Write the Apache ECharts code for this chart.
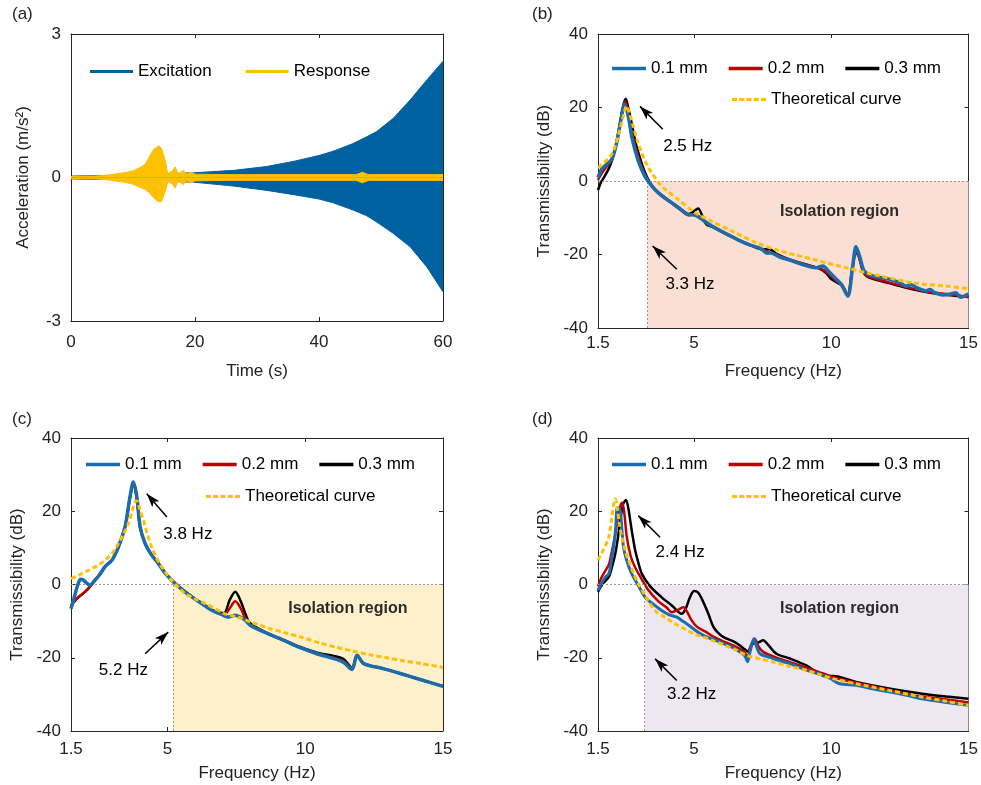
<!DOCTYPE html>
<html><head><meta charset="utf-8">
<script src="https://cdn.jsdelivr.net/npm/echarts@6/dist/echarts.min.js"></script>
<style>html,body{margin:0;padding:0;background:#fff}#c{width:981px;height:785px}</style>
</head><body><div id="c"></div>
<script>
// ---------- Panel (a): envelopes of time signals ----------
const excT  = [0, 10, 20, 26.3, 31.6, 36, 40, 42.3, 45.5, 47.7, 49.3, 52, 54.7, 57.4, 60];
const excUp = [0.03, 0.05, 0.1, 0.15, 0.23, 0.34, 0.46, 0.55, 0.71, 0.85, 0.96, 1.24, 1.62, 2.04, 2.43];
const excLo = [-0.03, -0.05, -0.1, -0.18, -0.27, -0.36, -0.45, -0.53, -0.68, -0.8, -0.93, -1.17, -1.45, -1.87, -2.39];
const resT  = [0, 4, 6, 8, 9, 10, 11, 12, 12.7, 13.3, 13.8, 14.2, 14.6, 15.0, 15.3, 15.6, 15.9, 16.3, 16.8, 17.3, 17.7, 18.1, 18.6, 19.0, 19.5, 20, 25, 30, 40, 46, 47, 48, 50, 60];
const resUp = [0.02, 0.03, 0.05, 0.09, 0.11, 0.14, 0.2, 0.28, 0.45, 0.58, 0.63, 0.66, 0.6, 0.45, 0.3, 0.08, 0.11, 0.13, 0.22, 0.07, 0.11, 0.15, 0.07, 0.09, 0.11, 0.07, 0.06, 0.06, 0.06, 0.06, 0.11, 0.06, 0.06, 0.06];
const resLo = [-0.02, -0.03, -0.05, -0.09, -0.11, -0.14, -0.2, -0.25, -0.33, -0.42, -0.48, -0.51, -0.5, -0.36, -0.25, -0.08, -0.11, -0.13, -0.22, -0.07, -0.11, -0.15, -0.07, -0.09, -0.11, -0.07, -0.06, -0.06, -0.06, -0.06, -0.11, -0.06, -0.06, -0.06];

// ---------- Frequency axis ----------
const freqTicks = [1.5, 5, 10, 15];

// ---------- Panel (b) [f (Hz), dB] ----------
const b01 = [[1.5,0.9],[1.63,3.2],[1.8,4.5],[2.0,5.9],[2.18,10.4],[2.36,17.7],[2.46,20.9],[2.6,17.7],[2.75,11.3],[2.97,5.4],[3.2,1.4],[3.4,-0.8],[3.57,-2.3],[3.85,-4.2],[4.18,-5.9],[4.5,-7.6],[4.78,-9.1],[5.03,-9.3],[5.3,-10.5],[5.63,-12.2],[5.9,-13.3],[6.24,-14.6],[6.6,-16],[7.03,-17.4],[7.3,-18],[7.5,-18.7],[7.63,-19.6],[7.8,-19.6],[8.12,-20.7],[8.48,-21.5],[8.85,-22.5],[9.45,-23.6],[9.69,-23.1],[9.94,-24.9],[10.18,-26.7],[10.36,-28.1],[10.6,-31.3],[10.78,-23.1],[10.9,-17.9],[11.03,-20.4],[11.2,-24.5],[11.5,-25.8],[12.1,-26.7],[12.5,-27.7],[12.73,-28.6],[12.9,-28.2],[13.1,-29],[13.45,-29.9],[13.6,-29.5],[13.75,-30.3],[14.06,-31.0],[14.3,-30.8],[14.54,-30.4],[14.7,-31.6],[14.85,-31.3],[15,-30.8]];
const b02 = [[1.5,0.3],[1.65,2.2],[1.8,3.8],[2.0,5.6],[2.15,9.8],[2.3,15.5],[2.42,20.3],[2.49,21.6],[2.58,19.5],[2.72,13.5],[2.85,9.5],[2.97,6.5],[3.2,1.8],[3.4,-0.6],[3.6,-2.4],[3.9,-4.4],[4.2,-6.1],[4.5,-7.8],[4.8,-9.3],[5.05,-9.1],[5.25,-10.2],[5.5,-11.8],[5.8,-12.9],[6.2,-14.6],[6.6,-16],[7.0,-17.4],[7.4,-18.3],[7.7,-19.3],[8.1,-20.3],[8.5,-21.4],[9.1,-22.8],[9.55,-23.7],[9.8,-24.6],[10.0,-26],[10.2,-27.3],[10.4,-28.3],[10.6,-31],[10.75,-25],[10.9,-19.3],[11.0,-20.5],[11.15,-24.3],[11.3,-25.8],[11.6,-26.6],[12.1,-27.6],[12.7,-28.8],[13.3,-29.8],[14.0,-30.6],[14.5,-31],[15,-31.6]];
const b03 = [[1.5,-2.5],[1.6,-0.5],[1.75,1.4],[1.9,3.5],[2.0,5.4],[2.15,9.5],[2.3,15.5],[2.42,20.5],[2.51,22.4],[2.6,20],[2.72,15.9],[2.85,11],[2.97,7.7],[3.2,2.5],[3.4,-0.5],[3.6,-2.5],[3.9,-4.3],[4.2,-6.0],[4.5,-7.6],[4.8,-9.0],[4.95,-8.5],[5.15,-7.5],[5.3,-9.5],[5.45,-11.8],[5.7,-12.6],[6.0,-13.7],[6.3,-14.8],[6.7,-16.3],[7.1,-17.6],[7.5,-18.6],[7.75,-18.6],[8.0,-19.8],[8.5,-21.4],[9.1,-22.8],[9.55,-23.8],[9.8,-25],[10.0,-26.7],[10.2,-27.6],[10.4,-28.5],[10.6,-31],[10.75,-24.5],[10.9,-19.5],[11.0,-20.5],[11.15,-24.5],[11.3,-26],[11.6,-26.8],[12.1,-27.8],[12.7,-29],[13.3,-30],[14.0,-30.8],[14.5,-31.2],[15,-31.6]];
const bTheory = [[1.5,3.6],[1.75,5.2],[2.0,7.3],[2.15,10],[2.3,14.1],[2.45,18.5],[2.54,20.4],[2.62,19],[2.78,15],[2.93,11],[3.09,7.7],[3.27,4.6],[3.45,2.3],[3.82,-1.4],[4.42,-5],[5.03,-8.6],[5.63,-10.9],[6.48,-14],[7.27,-16.8],[8.12,-19],[9.33,-21.3],[10.54,-23.6],[11.75,-25.8],[12.97,-27.7],[14.18,-28.6],[15,-29.3]];

// ---------- Panel (c) ----------
const c01 = [[1.5,-6.6],[1.6,-4],[1.75,0],[1.85,1.4],[1.95,1.2],[2.05,0.5],[2.19,-0.2],[2.35,1.0],[2.55,2.8],[2.75,5.0],[2.98,6.6],[3.1,8.2],[3.22,10.2],[3.46,15.7],[3.64,23.9],[3.76,28],[3.89,23.9],[4.01,15.7],[4.19,11.2],[4.4,8.3],[4.67,5.7],[4.9,3.2],[5.16,1.1],[5.5,-1.2],[5.88,-3.4],[6.2,-5.0],[6.61,-7.0],[7.0,-8.3],[7.21,-8.9],[7.45,-8.4],[7.8,-9.6],[8.0,-11.1],[8.6,-13.3],[9.21,-15.2],[9.8,-17.2],[10.42,-18.9],[11.03,-20.2],[11.4,-21.3],[11.7,-23.2],[11.88,-19.3],[12.12,-21.6],[12.8,-22.9],[13.45,-24.3],[14.2,-26],[15,-27.8]];
const c02 = [[1.5,-6.2],[1.6,-4.6],[1.8,-3.2],[2.0,-2.0],[2.19,-0.6],[2.35,1.0],[2.55,2.8],[2.75,5.0],[2.98,6.6],[3.1,8.2],[3.22,10.2],[3.46,15.7],[3.64,23.6],[3.76,27.6],[3.89,23.4],[4.01,15.5],[4.19,11.2],[4.4,8.4],[4.67,5.8],[4.9,3.4],[5.16,1.2],[5.5,-1.1],[5.88,-3.3],[6.2,-4.9],[6.61,-6.9],[7.05,-8.4],[7.25,-6.6],[7.46,-4.6],[7.65,-6.4],[7.85,-9.6],[8.0,-11.0],[8.6,-13.3],[9.21,-15.2],[9.8,-17.2],[10.42,-18.8],[11.03,-20.0],[11.4,-21.0],[11.7,-23.0],[11.88,-19.3],[12.12,-21.6],[12.8,-22.9],[13.45,-24.3],[14.2,-26],[15,-27.8]];
const c03 = [[1.5,-6.0],[1.6,-4.8],[1.8,-3.3],[2.0,-2.1],[2.19,-0.6],[2.35,1.0],[2.55,2.8],[2.75,5.0],[2.98,6.6],[3.1,8.2],[3.22,10.2],[3.46,15.7],[3.64,23.8],[3.76,27.9],[3.89,23.6],[4.01,15.6],[4.19,11.2],[4.4,8.4],[4.67,5.8],[4.9,3.4],[5.16,1.2],[5.5,-1.1],[5.88,-3.3],[6.2,-4.9],[6.61,-6.9],[7.05,-7.8],[7.25,-4.4],[7.46,-2.0],[7.65,-4.4],[7.85,-8.4],[8.0,-10.6],[8.6,-13.2],[9.21,-15.1],[9.8,-17.0],[10.42,-18.6],[11.03,-19.5],[11.4,-20.4],[11.7,-22.8],[11.88,-19.3],[12.12,-21.6],[12.8,-22.9],[13.45,-24.3],[14.2,-26],[15,-27.8]];
const cTheory = [[1.5,1.6],[1.8,2.6],[2.13,3.9],[2.45,5.1],[2.74,6.6],[3.0,8.6],[3.22,11.2],[3.42,14],[3.58,16.6],[3.72,20],[3.82,22.5],[3.9,22.8],[3.98,21],[4.13,17.5],[4.28,13.5],[4.43,10.2],[4.6,7.3],[4.79,4.8],[5.0,2.6],[5.16,1.1],[5.4,-0.7],[5.64,-2.5],[6.0,-3.9],[6.37,-5.2],[6.7,-6.5],[7.09,-8],[7.6,-9.0],[8.0,-10.2],[8.7,-12],[9.33,-13.3],[9.82,-14.3],[10.54,-16],[11.15,-17.2],[11.63,-18],[12.35,-19.2],[12.96,-20],[13.45,-20.7],[14.2,-21.6],[15,-22.6]];

// ---------- Panel (d) ----------
const d01 = [[1.5,-1.6],[1.6,0],[1.77,2],[1.9,3],[2.01,7.5],[2.1,12],[2.15,16],[2.19,20.7],[2.25,21],[2.31,20.2],[2.37,15],[2.43,10.2],[2.55,6.5],[2.73,2.9],[2.95,0],[3.22,-3.5],[3.5,-5.3],[3.82,-7.1],[4.1,-8.3],[4.37,-8.9],[4.55,-9.8],[4.73,-10.7],[5.03,-12.4],[5.34,-13.9],[5.7,-15],[6.06,-16.1],[6.4,-17.2],[6.67,-18.4],[6.85,-19.5],[6.95,-21.1],[7.05,-18],[7.18,-14.8],[7.28,-17],[7.4,-18.9],[7.88,-20.2],[8.49,-21.6],[9.09,-23.4],[9.7,-24.8],[10.0,-25.8],[10.3,-27.1],[10.9,-27.5],[11.5,-28.5],[12.1,-29.3],[12.7,-30.2],[13.3,-31.2],[14.2,-32.2],[15,-33]];
const d02 = [[1.5,-0.5],[1.6,1.5],[1.77,3.8],[1.9,5.5],[2.01,9.3],[2.1,12.5],[2.19,16.6],[2.28,20.5],[2.37,22.3],[2.45,20],[2.55,12.9],[2.7,7.5],[2.85,4.7],[3.05,2],[3.34,-1.6],[3.7,-4.6],[4.0,-6.3],[4.19,-7.6],[4.4,-7],[4.61,-6.2],[4.75,-7.5],[4.91,-9.8],[5.1,-11.5],[5.4,-12.8],[5.7,-14.2],[6.06,-15.5],[6.5,-16.9],[6.8,-18.2],[6.95,-19.8],[7.05,-17],[7.21,-14.8],[7.35,-17],[7.52,-18.4],[8.0,-20],[8.49,-21.2],[9.21,-23],[9.7,-24.3],[10.3,-25.8],[10.9,-26.8],[11.5,-27.8],[12.1,-28.8],[12.7,-29.8],[13.3,-30.6],[14.2,-31.4],[15,-32.2]];
const d03 = [[1.5,-2],[1.65,0],[1.89,2],[2.0,4.5],[2.13,8.4],[2.22,12.5],[2.31,17.5],[2.42,22],[2.52,23.1],[2.6,21],[2.73,14.7],[2.85,9.5],[2.95,6.5],[3.1,2.9],[3.4,-0.5],[3.82,-3.5],[4.2,-5.8],[4.55,-8],[4.7,-6.5],[4.85,-3.5],[5.0,-1.8],[5.15,-2.2],[5.3,-4.2],[5.52,-8],[5.7,-11.5],[5.85,-13],[6.06,-14.3],[6.5,-15.8],[6.85,-17.7],[6.95,-18.3],[7.15,-16.1],[7.35,-15.8],[7.52,-15.2],[7.7,-16.5],[8.0,-18.9],[8.49,-20.2],[9.09,-22.1],[9.45,-23.9],[9.75,-25],[10.06,-25],[10.9,-26.6],[12.1,-28.4],[13.3,-29.8],[14.2,-30.6],[15,-31.2]];
const dTheory = [[1.5,6.6],[1.7,9.5],[1.89,12.9],[2.0,18],[2.07,22],[2.13,23.4],[2.2,21],[2.28,16.5],[2.37,12.9],[2.5,9],[2.61,6.6],[2.8,3],[2.97,0.2],[3.2,-2.8],[3.58,-7.1],[3.95,-9],[4.31,-10.7],[4.7,-12.3],[5.03,-13.6],[5.34,-14.3],[5.7,-15.4],[6.06,-16.4],[6.5,-17.8],[6.91,-19.3],[7.4,-20.3],[7.88,-21.2],[8.5,-22.4],[9.09,-23.4],[9.6,-24.6],[10.06,-25.7],[10.9,-27.1],[12.1,-28.9],[13.3,-30.7],[14.2,-31.9],[15,-33]];

// Resonance / isolation-start frequencies
const peakHz = [2.5, 3.8, 2.4];
const isoHz  = [3.3, 5.2, 3.2];

// ---------- Styles ----------
const FONT = "'Liberation Sans', Arial, Helvetica, sans-serif";
const TXT = '#222';
const AX = '#262626';
const BLUE_A = '#0061A0', YEL = '#FFC000';
const BLUE = '#1C6BAA', RED = '#C00000', BLACK = '#000000';
const FILLS = ['#F9DFD4', '#FFF0CC', '#ECE7F0'];
const DASH_ICON = 'path://M0,0h5v3h-5z M7.25,0h5v3h-5z M14.5,0h5v3h-5z M21.75,0h5v3h-5z M29,0h5v3h-5z';

const chart = echarts.init(document.getElementById('c'), null, {renderer: 'canvas'});

const grids = [
  {left: 71, top: 34, width: 372, height: 287},
  {left: 598, top: 34, width: 371, height: 294},
  {left: 71, top: 438, width: 372, height: 293},
  {left: 598, top: 438, width: 371, height: 293}
];

const xAxis = [], yAxis = [], series = [];
function axisCommon(extra) {
  return Object.assign({
    type: 'value', splitLine: {show: false},
    axisLine: {show: true, onZero: false, lineStyle: {color: AX, width: 1}},
    axisTick: {show: true, inside: true, length: 4, lineStyle: {color: AX}},
    axisLabel: {color: TXT, fontSize: 17, fontFamily: FONT},
    nameTextStyle: {color: TXT, fontSize: 17, fontFamily: FONT}
  }, extra);
}
function addAxes(gi, xcfg, ycfg) {
  xAxis.push(axisCommon(Object.assign({gridIndex: gi, position: 'bottom'}, xcfg.bottom)));
  xAxis.push(axisCommon(Object.assign({gridIndex: gi, position: 'top', axisLabel: {show: false}}, xcfg.top)));
  yAxis.push(axisCommon(Object.assign({gridIndex: gi, position: 'left'}, ycfg.left)));
  yAxis.push(axisCommon(Object.assign({gridIndex: gi, position: 'right', axisLabel: {show: false}}, ycfg.right)));
}

// Panel a axes
addAxes(0,
  {bottom: {min: 0, max: 60, interval: 20, name: 'Time (s)', nameLocation: 'middle', nameGap: 42,
            axisLabel: {color: TXT, fontSize: 17, fontFamily: FONT, margin: 13}},
   top: {min: 0, max: 60, interval: 20}},
  {left: {min: -3, max: 3, interval: 3, name: 'Acceleration (m/s²)', nameLocation: 'middle', nameGap: 39,
          axisLabel: {color: TXT, fontSize: 17, fontFamily: FONT, margin: 10}},
   right: {min: -3, max: 3, interval: 3}});

const xNameGaps = [35, 34, 34];
const xMargins = [7, 10, 10];
for (let k = 0; k < 3; k++) {
  const gi = k + 1;
  addAxes(gi,
    {bottom: {min: 1.5, max: 15, name: 'Frequency (Hz)', nameLocation: 'middle', nameGap: xNameGaps[k],
              axisLabel: {color: TXT, fontSize: 17, fontFamily: FONT, margin: xMargins[k], customValues: freqTicks},
              axisTick: {show: true, inside: true, length: 4, lineStyle: {color: AX}, customValues: freqTicks}},
     top: {min: 1.5, max: 15,
           axisTick: {show: true, inside: true, length: 4, lineStyle: {color: AX}, customValues: freqTicks}}},
    {left: {min: -40, max: 40, interval: 20, name: 'Transmissibility (dB)', nameLocation: 'middle', nameGap: 45,
            axisLabel: {color: TXT, fontSize: 17, fontFamily: FONT, margin: 10}},
     right: {min: -40, max: 40, interval: 20}});
}

// Panel a series (envelopes of oscillating signals)
function env(t, v) { return t.map((x, i) => [x, v[i]]); }
[[excUp, 'Excitation', BLUE_A, excT, 2], [excLo, 'Excitation', BLUE_A, excT, 2],
 [resUp, 'Response', YEL, resT, 3], [resLo, 'Response', YEL, resT, 3]].forEach(([v, name, col, t, z]) => {
  series.push({name, type: 'line', xAxisIndex: 0, yAxisIndex: 0, data: env(t, v), symbol: 'none',
    z, color: col, itemStyle: {color: col}, lineStyle: {color: col, width: 1},
    areaStyle: {color: col, opacity: 1}, silent: true});
});

// Frequency panels
const panels = [
  {d1: b01, d2: b02, d3: b03, th: bTheory, iso: isoHz[0], fill: FILLS[0], blueW: 3.5,
   arrows: [[[3.86, 14.1], [3.03, 20.3]], [[4.37, -24], [3.49, -17.7]]],
   labels: [[4.77, 9.4, peakHz[0] + ' Hz'], [4.85, -28.1, isoHz[0] + ' Hz']], region: [10.3, -8.2]},
  {d1: c01, d2: c02, d3: c03, th: cTheory, iso: isoHz[1], fill: FILLS[1], blueW: 3.5,
   arrows: [[[4.98, 18.4], [4.25, 24.8]], [[4.19, -18.9], [5.03, -13]]],
   labels: [[5.74, 13.7, peakHz[1] + ' Hz'], [3.4, -23.4, isoHz[1] + ' Hz']], region: [11.55, -6.6]},
  {d1: d01, d2: d02, d3: d03, th: dTheory, iso: isoHz[2], fill: FILLS[2], blueW: 3,
   arrows: [[[3.76, 12.9], [2.97, 18.8]], [[4.37, -26.2], [3.58, -20.3]]],
   labels: [[4.49, 8.7, peakHz[2] + ' Hz'], [4.91, -30, isoHz[2] + ' Hz']], region: [10.3, -6.6]}
];

panels.forEach((p, k) => {
  const xi = 2 * (k + 1), yi = 2 * (k + 1);
  series.push({type: 'line', xAxisIndex: xi, yAxisIndex: yi, data: [], z: 1, silent: true,
    markArea: {silent: true, label: {show: false}, itemStyle: {color: p.fill},
      data: [[{coord: [p.iso, 0]}, {coord: [15, -40]}]]},
    markLine: {silent: true, symbol: 'none', label: {show: false}, animation: false,
      lineStyle: {color: '#9a9a9a', type: [2, 2], width: 1},
      emphasis: {disabled: true},
      data: [[{coord: [1.5, 0]}, {coord: [15, 0]}], [{coord: [p.iso, -40]}, {coord: [p.iso, 0]}]]}
  });
  series.push({name: '0.3 mm', type: 'line', xAxisIndex: xi, yAxisIndex: yi, data: p.d3, symbol: 'none',
    smooth: 0.3, z: 3, color: BLACK, lineStyle: {color: BLACK, width: 2.5}});
  series.push({name: '0.2 mm', type: 'line', xAxisIndex: xi, yAxisIndex: yi, data: p.d2, symbol: 'none',
    smooth: 0.3, z: 4, color: RED, lineStyle: {color: RED, width: 2.5}});
  series.push({name: '0.1 mm', type: 'line', xAxisIndex: xi, yAxisIndex: yi, data: p.d1, symbol: 'none',
    smooth: 0.3, z: 5, color: BLUE, lineStyle: {color: BLUE, width: p.blueW}});
  series.push({name: 'Theoretical curve', type: 'line', xAxisIndex: xi, yAxisIndex: yi, data: p.th, symbol: 'none',
    smooth: 0.3, z: 6, color: YEL, lineStyle: {color: YEL, width: 3, type: [5, 3]}});
  series.push({type: 'line', xAxisIndex: xi, yAxisIndex: yi, data: [], z: 8, silent: true,
    markLine: {silent: true, symbol: ['none', 'arrow'], symbolSize: [7, 14], label: {show: false},
      lineStyle: {color: '#000', type: 'solid', width: 1.5}, emphasis: {disabled: true},
      data: p.arrows.map(a => [{coord: a[0]}, {coord: a[1]}])},
    markPoint: {silent: true, symbol: 'circle', symbolSize: 0,
      label: {show: true, position: 'inside', color: '#000', fontSize: 17, fontFamily: FONT},
      data: p.labels.map(l => ({coord: [l[0], l[1]], label: {formatter: l[2]}})).concat([
        {coord: p.region, label: {formatter: 'Isolation region', fontWeight: 'bold', fontSize: 16, color: '#2a2a2a'}}])}
  });
});

const legText = {fontSize: 17, fontFamily: FONT, color: '#000'};
const row1 = [{name: '0.1 mm', icon: 'rect'}, {name: '0.2 mm', icon: 'rect'}, {name: '0.3 mm', icon: 'rect'}];
const row2 = [{name: 'Theoretical curve', icon: DASH_ICON}];
const legends = [
  {data: [{name: 'Excitation', icon: 'rect'}, {name: 'Response', icon: 'rect'}], left: 90, top: 63,
   itemWidth: 43, itemHeight: 3, itemGap: 34},
  {data: row1, left: 612, top: 60, itemWidth: 34, itemHeight: 3.5, itemGap: 21},
  {data: row2, left: 732, top: 91, itemWidth: 34, itemHeight: 3},
  {data: row1, left: 86, top: 456, itemWidth: 34, itemHeight: 3.5, itemGap: 21},
  {data: row2, left: 206, top: 488, itemWidth: 34, itemHeight: 3},
  {data: row1, left: 612, top: 456, itemWidth: 34, itemHeight: 3.5, itemGap: 21},
  {data: row2, left: 732, top: 488, itemWidth: 34, itemHeight: 3}
].map(l => Object.assign({padding: 0, textStyle: legText, selectedMode: false, orient: 'horizontal', itemStyle: {borderWidth: 0}}, l));

const titles = [['(a)', 12, 6], ['(b)', 532, 6], ['(c)', 12, 411], ['(d)', 532, 411]].map(t => ({
  text: t[0], left: t[1], top: t[2], padding: 0,
  textStyle: {fontSize: 17, fontWeight: 'normal', color: TXT, fontFamily: FONT}
}));

chart.setOption({
  animation: false,
  backgroundColor: '#fff',
  textStyle: {fontFamily: FONT},
  title: titles,
  grid: grids,
  xAxis, yAxis, legend: legends, series
});
</script></body></html>
